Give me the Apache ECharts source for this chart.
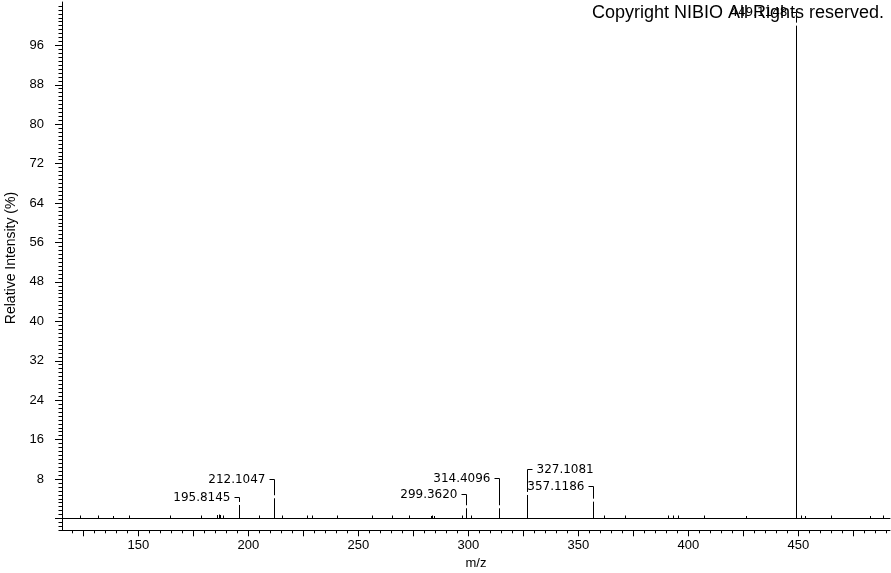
<!DOCTYPE html>
<html>
<head>
<meta charset="utf-8">
<script src="https://cdn.jsdelivr.net/npm/echarts@6/dist/echarts.min.js"></script>
<style>
html,body{margin:0;padding:0;background:#fff;}
#chart{width:891px;height:573px;}
</style>
</head>
<body>
<div id="chart"></div>
<script>
// ---- data ----
const peakMz = [123.7, 131.7, 138.5, 145.8, 164.7, 178.8, 186.2, 186.8, 187.4, 188.6,
  204.9, 215.5, 226.9, 229.1, 240.5, 256.5, 265.6, 273.2, 283.1, 283.8, 284.6,
  297.5, 301.3, 361.9, 371.4, 390.8, 393.1, 395.6, 407.5, 426.5, 451.6, 453.1,
  465.2, 482.7, 488.7];
const peakIntensity = [0.6, 0.6, 0.5, 0.6, 0.6, 0.6, 0.7, 0.8, 0.7, 0.6,
  0.6, 0.6, 0.6, 0.6, 0.6, 0.6, 0.6, 0.6, 0.5, 0.6, 0.5,
  0.6, 0.6, 0.6, 0.6, 0.6, 0.6, 0.6, 0.6, 0.5, 0.6, 0.5,
  0.6, 0.5, 0.6];
const labeledMz = [195.8145, 212.1047, 299.3620, 314.4096, 327.1081, 357.1186, 449.1148];
const labeledIntensity = [2.74, 4.1, 2.07, 2.07, 4.77, 3.41, 100];
const xTickLabels = [150, 200, 250, 300, 350, 400, 450];
const yTickLabels = [8, 16, 24, 32, 40, 48, 56, 64, 72, 80, 88, 96];

// ---- layout (label leader placement, px above peak top; side) ----
const labelLift = [8.3, 19, 14, 30, 25.7, 15.7, 13.5];
const labelSide = ['left', 'left', 'left', 'left', 'right', 'left', 'left'];

const X_MIN = 115.3, X_MAX = 491.7, Y_MIN = -2.4, Y_MAX = 104.8;
const xMajorTicks = [];
for (let v = 125; v <= 475; v += 25) xMajorTicks.push(v);
const xMinorTicks = [];
for (let v = 120; v <= 490; v += 5) xMinorTicks.push(v);
const yMajorTicks = [0].concat(yTickLabels);
const yMinorTicks = [];
for (let k = -3; k * 0.8 <= Y_MAX; k++) yMinorTicks.push(Math.round(k * 8) / 10);

const FONT = 'Liberation Sans, Arial, sans-serif';
const chart = echarts.init(document.getElementById('chart'));

const peakData = peakMz.map((m, i) => [m, peakIntensity[i]]);
const labData = labeledMz.map((m, i) => [m, labeledIntensity[i], i]);

function crisp(x) { return Math.round(x - 0.5) + 0.5; }

chart.setOption({
  animation: false,
  backgroundColor: '#fff',
  grid: { left: 62, right: 1, top: 2, bottom: 42.7, containLabel: false, outerBoundsMode: 'none' },
  xAxis: [
    {
      type: 'value', min: X_MIN, max: X_MAX, position: 'bottom',
      name: 'm/z', nameLocation: 'middle', nameGap: 26,
      nameTextStyle: { color: '#000', fontSize: 13, fontFamily: FONT },
      axisLine: { onZero: false, lineStyle: { color: '#000', width: 1 } },
      axisTick: { show: true, customValues: xMajorTicks, length: 6, lineStyle: { color: '#000' } },
      axisLabel: { customValues: xTickLabels, color: '#000', fontSize: 13, fontFamily: FONT, margin: 9 },
      splitLine: { show: false }
    },
    {
      type: 'value', min: X_MIN, max: X_MAX, position: 'bottom',
      axisLine: { show: false, onZero: false },
      axisTick: { show: true, customValues: xMinorTicks, length: 3, lineStyle: { color: '#000' } },
      axisLabel: { show: false },
      splitLine: { show: false }
    },
    {
      type: 'value', min: X_MIN, max: X_MAX,
      axisLine: { show: true, onZero: true, lineStyle: { color: '#000', width: 1 } },
      axisTick: { show: false }, axisLabel: { show: false }, splitLine: { show: false }
    }
  ],
  yAxis: [
    {
      type: 'value', min: Y_MIN, max: Y_MAX, position: 'left',
      axisLine: { show: true, lineStyle: { color: '#000', width: 1 } },
      axisTick: { show: true, customValues: yMajorTicks, length: 7, lineStyle: { color: '#000' } },
      axisLabel: { customValues: yTickLabels, color: '#000', fontSize: 13, fontFamily: FONT, margin: 18 },
      splitLine: { show: false }
    },
    {
      type: 'value', min: Y_MIN, max: Y_MAX, position: 'left',
      axisLine: { show: false },
      axisTick: { show: true, customValues: yMinorTicks, length: 3.5, lineStyle: { color: '#000' } },
      axisLabel: { show: false }, splitLine: { show: false }
    }
  ],
  series: [
    {
      type: 'custom', xAxisIndex: 0, yAxisIndex: 0, data: peakData, silent: true,
      renderItem(params, api) {
        const x = api.value(0), y = api.value(1);
        const p0 = api.coord([x, 0]), p1 = api.coord([x, y]);
        const px = crisp(p0[0]);
        return { type: 'line', shape: { x1: px, y1: p0[1], x2: px, y2: p1[1] },
          style: { stroke: '#000', lineWidth: 1 } };
      }
    },
    {
      type: 'custom', xAxisIndex: 0, yAxisIndex: 0, data: labData, silent: true, z: 3,
      renderItem(params, api) {
        const x = api.value(0), y = api.value(1), idx = api.value(2);
        const p0 = api.coord([x, 0]), p1 = api.coord([x, y]);
        const px = crisp(p0[0]);
        const lift = labelLift[idx];
        const ly = Math.round(p1[1] - lift) + 0.5;
        const side = labelSide[idx];
        const dir = side === 'left' ? -1 : 1;
        return {
          type: 'group',
          children: [
            { type: 'line', shape: { x1: px, y1: p0[1], x2: px, y2: p1[1] },
              style: { stroke: '#000', lineWidth: 1 } },
            { type: 'polyline', shape: { points: [[px, p1[1] - 3], [px, ly], [px + dir * 5, ly]] },
              style: { stroke: '#000', lineWidth: 1, fill: null } },
            { type: 'text', x: px + dir * 9, y: ly,
              style: { text: labeledMz[idx].toFixed(4), fill: '#000',
                font: '12px "DejaVu Sans", sans-serif',
                align: side === 'left' ? 'right' : 'left', verticalAlign: 'middle' } }
          ]
        };
      }
    }
  ],
  graphic: [
    { type: 'text', x: 11, y: 258, rotation: Math.PI / 2, z: 10,
      style: { text: 'Relative Intensity (%)', fill: '#000', align: 'center', verticalAlign: 'middle',
        font: '14px "Liberation Sans", Arial, sans-serif' } },
    { type: 'text', right: 7, top: 4, z: 10,
      style: { text: 'Copyright NIBIO All Rights reserved.', fill: '#000',
        font: '18px "Liberation Sans", Arial, sans-serif' } }
  ]
});
</script>
</body>
</html>
